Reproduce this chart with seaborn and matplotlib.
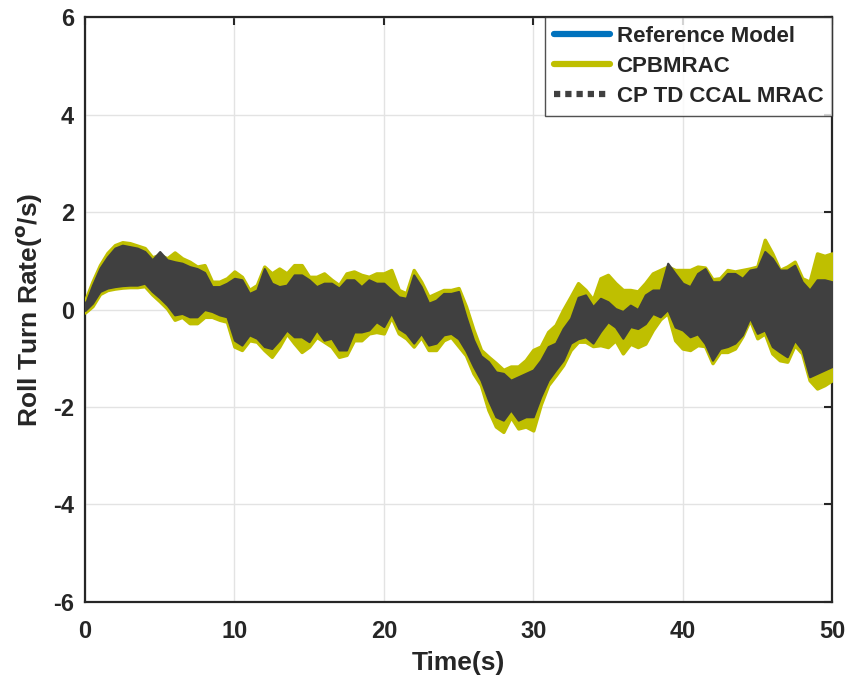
import numpy as np
import pandas as pd
import matplotlib
matplotlib.use("Agg")
import matplotlib.pyplot as plt
import seaborn as sns

# ---------------- data ----------------
t_env = [i * 0.5 for i in range(101)]  # 0, 0.5, ..., 50 s

# CP TD CCAL MRAC band (upper / lower edge of the dense oscillation)
ccal_upper = [0.10, 0.50, 0.85, 1.08, 1.26, 1.32, 1.29, 1.26, 1.19, 1.02,
              1.19, 1.02, 0.98, 0.95, 0.88, 0.84, 0.76, 0.47, 0.47, 0.54,
              0.64, 0.61, 0.33, 0.40, 0.84, 0.54, 0.47, 0.50, 0.71, 0.71,
              0.61, 0.47, 0.54, 0.54, 0.44, 0.61, 0.61, 0.47, 0.61, 0.54,
              0.54, 0.40, 0.26, 0.23, 0.71, 0.47, 0.13, 0.19, 0.33, 0.33,
              0.37, -0.15, -0.62, -0.95, -1.07, -1.28, -1.31, -1.45, -1.38, -1.31,
              -1.24, -1.04, -0.76, -0.69, -0.39, -0.18, 0.25, 0.30, 0.06, 0.23,
              0.16, 0.02, -0.04, 0.09, 0.00, 0.30, 0.40, 0.40, 0.95, 0.74,
              0.54, 0.47, 0.74, 0.84, 0.57, 0.57, 0.74, 0.74, 0.64, 0.81,
              0.84, 1.19, 1.05, 0.81, 0.81, 0.91, 0.57, 0.40, 0.61, 0.61,
              0.57]
ccal_lower = [-0.02, 0.13, 0.37, 0.44, 0.47, 0.49, 0.50, 0.50, 0.54, 0.37,
              0.24, 0.09, -0.11, -0.08, -0.15, -0.15, 0.00, -0.04, -0.11, -0.15,
              -0.63, -0.73, -0.52, -0.59, -0.76, -0.80, -0.63, -0.42, -0.56, -0.56,
              -0.66, -0.42, -0.63, -0.59, -0.83, -0.83, -0.46, -0.46, -0.42, -0.25,
              -0.35, -0.07, -0.39, -0.49, -0.69, -0.49, -0.73, -0.69, -0.52, -0.49,
              -0.60, -0.85, -1.17, -1.45, -1.86, -2.20, -2.27, -2.06, -2.27, -2.20,
              -2.20, -1.79, -1.45, -1.24, -1.04, -0.69, -0.60, -0.56, -0.69, -0.45,
              -0.25, -0.36, -0.59, -0.35, -0.39, -0.29, -0.08, -0.15, 0.00, -0.36,
              -0.42, -0.56, -0.50, -0.70, -1.04, -0.80, -0.76, -0.69, -0.52, -0.17,
              -0.49, -0.42, -0.76, -0.87, -0.97, -0.63, -0.83, -1.38, -1.31, -1.24,
              -1.17]

# CPBMRAC band
cpb_upper = [0.18, 0.57, 0.91, 1.16, 1.32, 1.38, 1.36, 1.31, 1.26, 1.07,
             1.12, 1.05, 1.17, 1.05, 0.98, 0.88, 0.91, 0.57, 0.57, 0.64,
             0.78, 0.67, 0.40, 0.50, 0.88, 0.74, 0.84, 0.74, 0.91, 0.91,
             0.67, 0.67, 0.74, 0.61, 0.50, 0.74, 0.78, 0.71, 0.67, 0.74,
             0.74, 0.81, 0.40, 0.33, 0.81, 0.57, 0.26, 0.33, 0.40, 0.40,
             0.44, 0.06, -0.42, -0.83, -0.97, -1.10, -1.24, -1.17, -1.17, -1.04,
             -0.83, -0.76, -0.46, -0.32, -0.01, 0.26, 0.54, 0.40, 0.20, 0.64,
             0.71, 0.54, 0.40, 0.40, 0.37, 0.54, 0.74, 0.81, 0.88, 0.81,
             0.81, 0.81, 0.88, 0.86, 0.62, 0.64, 0.81, 0.78, 0.81, 0.84,
             0.88, 1.43, 1.15, 0.81, 0.88, 0.98, 0.64, 0.57, 1.15, 1.10,
             1.15]
cpb_lower = [-0.06, 0.07, 0.32, 0.40, 0.43, 0.45, 0.46, 0.46, 0.48, 0.31,
             0.17, 0.02, -0.21, -0.15, -0.28, -0.28, -0.15, -0.15, -0.21, -0.25,
             -0.76, -0.83, -0.63, -0.66, -0.83, -0.97, -0.76, -0.49, -0.69, -0.87,
             -0.76, -0.56, -0.66, -0.76, -0.97, -0.93, -0.63, -0.63, -0.49, -0.46,
             -0.49, -0.15, -0.49, -0.59, -0.76, -0.56, -0.83, -0.83, -0.63, -0.56,
             -0.75, -0.94, -1.31, -1.55, -2.06, -2.40, -2.51, -2.20, -2.44, -2.40,
             -2.48, -1.95, -1.55, -1.35, -1.14, -0.83, -0.66, -0.66, -0.75, -0.73,
             -0.77, -0.63, -0.90, -0.70, -0.77, -0.70, -0.42, -0.20, -0.07, -0.63,
             -0.80, -0.83, -0.73, -0.75, -1.10, -0.87, -0.87, -0.80, -0.55, -0.21,
             -0.59, -0.49, -0.90, -1.04, -1.07, -0.73, -0.90, -1.45, -1.62, -1.55,
             -1.45]

# Reference model (mostly hidden under the other two curves)
t_ref = list(range(51))
ref_model = [0.0, 0.6, 0.85, 0.9, 0.85, 0.7, 0.45, 0.35, 0.35, 0.2,
             0.0, -0.1, 0.0, -0.1, 0.1, 0.0, -0.05, -0.2, 0.05, 0.1,
             0.1, -0.05, 0.0, -0.3, -0.1, -0.2, -0.9, -1.45, -1.8, -1.8,
             -1.7, -1.1, -0.7, -0.15, -0.3, -0.05, -0.3, -0.2, 0.15, 0.45,
             0.05, 0.1, -0.25, 0.0, 0.05, 0.15, 0.15, -0.1, -0.15, -0.35,
             -0.3]

x_ticks = [0, 10, 20, 30, 40, 50]
y_ticks = [-6, -4, -2, 0, 2, 4, 6]
labels = ["Reference Model", "CPBMRAC", "CP TD CCAL MRAC"]
colors = ["#0072BD", "#BFBF00", "#404040"]

# ---------------- styling ----------------
sns.set_style("white")
plt.rcParams["font.family"] = ["Liberation Sans", "DejaVu Sans"]
plt.rcParams["font.weight"] = "bold"
plt.rcParams["mathtext.default"] = "bf"

fig = plt.figure(figsize=(8.46, 6.84), dpi=100)
ax = fig.add_axes([0.1005, 0.1199, 0.883, 0.8552])

df_ref = pd.DataFrame({"t": t_ref, "v": ref_model})
df_cpb = pd.DataFrame({"t": t_env + t_env, "v": cpb_upper + cpb_lower})
df_ccal = pd.DataFrame({"t": t_env + t_env, "v": ccal_upper + ccal_lower})

sns.lineplot(data=df_ref, x="t", y="v", ax=ax, color=colors[0], lw=3.5,
             label=labels[0], zorder=2)
sns.lineplot(data=df_cpb, x="t", y="v", ax=ax, estimator="mean",
             errorbar=("pi", 100), color=colors[1], lw=4, label=labels[1],
             zorder=3, err_kws=dict(alpha=1, zorder=3, lw=2.5,
                                    edgecolor=colors[1], joinstyle="round"))
sns.lineplot(data=df_ccal, x="t", y="v", ax=ax, estimator="mean",
             errorbar=("pi", 100), color=colors[2], lw=4, ls=(0, (1, 0.8)),
             label=labels[2], zorder=4,
             err_kws=dict(alpha=1, zorder=4, lw=1.5, edgecolor=colors[2],
                          joinstyle="round"))

ax.set_xlim(0, 50)
ax.set_ylim(-6, 6)
ax.set_xticks(x_ticks)
ax.set_yticks(y_ticks)
ax.set_xticklabels([str(v) for v in x_ticks], fontsize=17, fontweight="bold")
ax.set_yticklabels([str(v) for v in y_ticks], fontsize=17, fontweight="bold")
ax.grid(True, color="#e3e3e3", lw=1)
ax.set_axisbelow(True)
ax.tick_params(direction="in", length=6, width=1.5, top=True, right=True,
               colors="#262626", labelcolor="#262626")
ax.tick_params(axis="x", pad=13)
ax.tick_params(axis="y", pad=8)
for s in ax.spines.values():
    s.set_visible(True)
    s.set_color("#262626")
    s.set_linewidth(1.6)

ax.set_xlabel("Time(s)", fontsize=19, fontweight="bold", color="#262626", labelpad=6)
ax.set_ylabel("Roll Turn Rate($^{o}$/s)", fontsize=19, fontweight="bold",
              color="#262626", labelpad=6)

leg = ax.legend(loc="upper right", bbox_to_anchor=(1.0, 1.0), borderaxespad=0.0,
                fancybox=False, frameon=True, edgecolor="#262626",
                prop=dict(weight="bold", size=16), handlelength=2.5,
                handletextpad=0.3, borderpad=0.4, labelspacing=0.4)
leg.get_frame().set_linewidth(1.0)
for h in leg.get_lines():
    h.set_linewidth(4.5)

fig.savefig("out.png", dpi=100)
